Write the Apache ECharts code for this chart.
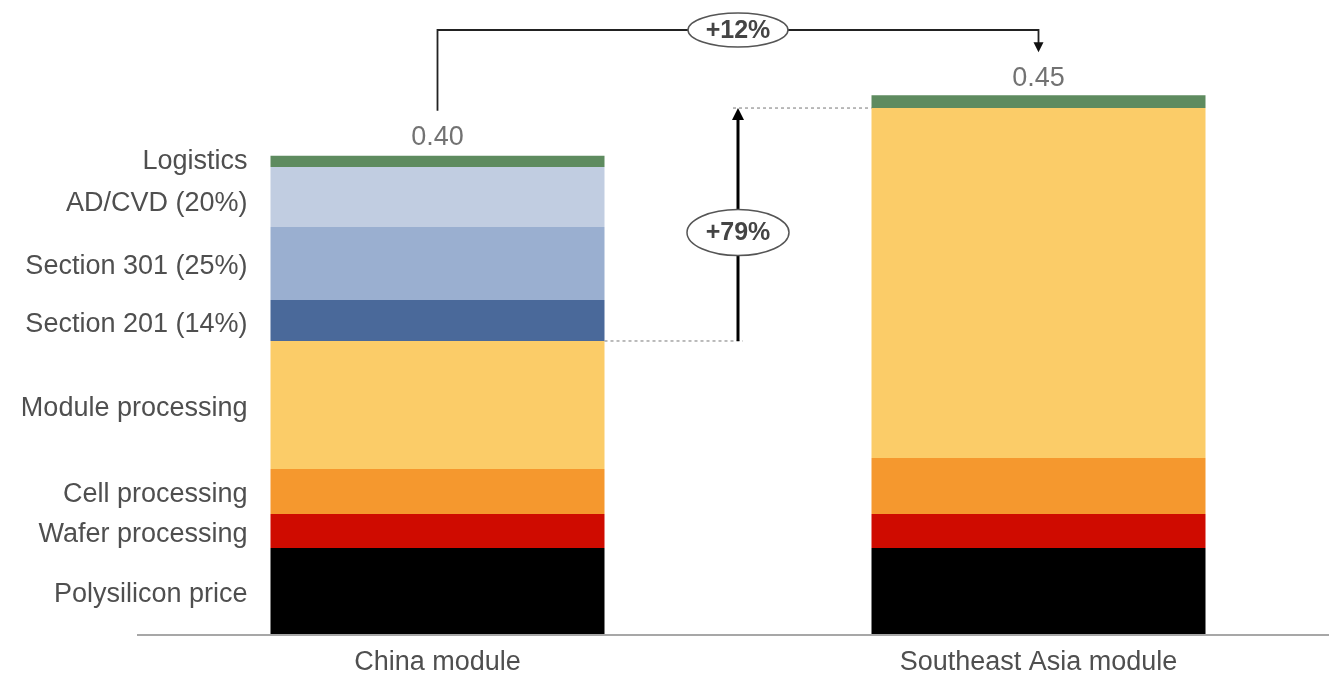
<!DOCTYPE html>
<html><head><meta charset="utf-8">
<script src="https://cdn.jsdelivr.net/npm/echarts@6/dist/echarts.min.js"></script>
<style>html,body{margin:0;padding:0;background:#fff}#c{width:1329px;height:676px}</style>
</head><body><div id="c"></div>
<script>
// ---- data ----
const categories = ['China module', 'Southeast Asia module'];
const components = ['Polysilicon price', 'Wafer processing', 'Cell processing', 'Module processing',
  'Section 201 (14%)', 'Section 301 (25%)', 'AD/CVD (20%)', 'Logistics'];
const polysilicon = [0.072, 0.072];
const wafer = [0.0285, 0.0285];
const cell = [0.0377, 0.0469];
const moduleProc = [0.1072, 0.2931];
const section201 = [0.0343, 0];
const section301 = [0.0611, 0];
const adcvd = [0.0503, 0];
const logistics = [0.0094, 0.0107];
const totals = [0.40, 0.45];
const totalLabels = ['0.40', '0.45'];
const annotationLabels = ['+12%', '+79%'];

// ---- styles ----
const colors = ['#000000', '#CF0B00', '#F5982E', '#FBCC68', '#4A699A', '#9AAFD0', '#C1CDE1', '#5E8B5F'];
const labelShift = [4, 4, 3, 4, 4, 3, 6, 0];
const FONT = 'Liberation Sans, Arial, sans-serif';
const TXT = '#4f4f4f';
const BAR_W = 334;

const chart = echarts.init(document.getElementById('c'));
const seriesValues = [polysilicon, wafer, cell, moduleProc, section201, section301, adcvd, logistics];
const series = seriesValues.map((vals, i) => ({
  name: components[i], type: 'bar', stack: 'total', barWidth: BAR_W, silent: true,
  itemStyle: { color: colors[i] },
  data: vals.map((v, j) => j === 0 ? {
    value: v,
    label: { show: true, position: 'left', distance: 23, offset: [0, labelShift[i]], formatter: components[i],
      color: TXT, fontSize: 27, fontFamily: FONT }
  } : v)
}));
series.push({
  type: 'scatter', data: totals, symbolSize: 0, silent: true, z: 5,
  label: { show: true, position: 'top', distance: 5, color: TXT, fontSize: 27, fontFamily: FONT,
    formatter: p => totalLabels[p.dataIndex] }
});

chart.setOption({
  animation: false,
  backgroundColor: '#ffffff',
  grid: { left: 437.5, right: 290.5, top: 37, bottom: 42 },
  xAxis: {
    type: 'category', data: categories, boundaryGap: false,
    axisLine: { show: false },
    axisTick: { show: false },
    axisLabel: { color: TXT, fontSize: 27, fontFamily: FONT, margin: 15 }
  },
  yAxis: { type: 'value', min: 0, max: 0.5, show: false, splitLine: { show: false } },
  series
});

// ---- annotations positioned from the axes ----
const sumTo = (arrs, j) => arrs.reduce((s, a) => s + a[j], 0);
const prodArrs = [polysilicon, wafer, cell, moduleProc];
const px = (c, v) => chart.convertToPixel({ gridIndex: 0 }, [c, v]);
const base = px(0, 0);
const chinaTop = px(0, sumTo(seriesValues, 0));
const seaTop = px(1, sumTo(seriesValues, 1));
const chinaProd = px(0, sumTo(prodArrs, 0));
const seaProd = px(1, sumTo(prodArrs, 1));
const chinaRight = chinaTop[0] + BAR_W / 2;
const seaLeft = seaTop[0] - BAR_W / 2;
const midX = (chinaRight + seaLeft) / 2;
const bracketY = 30;
const ellCy = (chinaProd[1] + seaProd[1]) / 2 + 8;

chart.setOption({
  graphic: [
    { type: 'line', silent: true, z: 0,
      shape: { x1: 137, y1: base[1] + 1, x2: 1329, y2: base[1] + 1 },
      style: { stroke: '#8a8a8a', lineWidth: 1.5 } },
    { type: 'polyline', silent: true, z: 10,
      shape: { points: [[chinaTop[0], chinaTop[1] - 45], [chinaTop[0], bracketY], [seaTop[0], bracketY], [seaTop[0], seaTop[1] - 52]] },
      style: { stroke: '#222', lineWidth: 1.8, fill: null } },
    { type: 'polygon', silent: true, z: 10,
      shape: { points: [[seaTop[0] - 5, seaTop[1] - 53], [seaTop[0] + 5, seaTop[1] - 53], [seaTop[0], seaTop[1] - 43]] },
      style: { fill: '#111' } },
    { type: 'ellipse', silent: true, z: 11,
      shape: { cx: midX, cy: bracketY, rx: 50, ry: 17 },
      style: { fill: '#fff', stroke: '#555', lineWidth: 1.5 } },
    { type: 'text', silent: true, z: 12,
      style: { text: annotationLabels[0], x: midX, y: bracketY + 1, align: 'center', verticalAlign: 'middle',
        textAlign: 'center', textVerticalAlign: 'middle', font: 'bold 25px ' + FONT, fill: '#444' } },
    { type: 'line', silent: true, z: 10,
      shape: { x1: chinaRight, y1: chinaProd[1], x2: midX + 5, y2: chinaProd[1] },
      style: { stroke: '#777', lineWidth: 1, lineDash: [3, 3] } },
    { type: 'line', silent: true, z: 10,
      shape: { x1: midX - 5, y1: seaProd[1], x2: seaLeft, y2: seaProd[1] },
      style: { stroke: '#777', lineWidth: 1, lineDash: [3, 3] } },
    { type: 'line', silent: true, z: 10,
      shape: { x1: midX, y1: chinaProd[1], x2: midX, y2: seaProd[1] + 10 },
      style: { stroke: '#000', lineWidth: 3 } },
    { type: 'polygon', silent: true, z: 10,
      shape: { points: [[midX - 6, seaProd[1] + 12], [midX + 6, seaProd[1] + 12], [midX, seaProd[1]]] },
      style: { fill: '#000' } },
    { type: 'ellipse', silent: true, z: 11,
      shape: { cx: midX, cy: ellCy, rx: 51, ry: 23 },
      style: { fill: '#fff', stroke: '#555', lineWidth: 1.5 } },
    { type: 'text', silent: true, z: 12,
      style: { text: annotationLabels[1], x: midX, y: ellCy + 1, align: 'center', verticalAlign: 'middle',
        textAlign: 'center', textVerticalAlign: 'middle', font: 'bold 25px ' + FONT, fill: '#444' } }
  ]
});
</script>
</body></html>
